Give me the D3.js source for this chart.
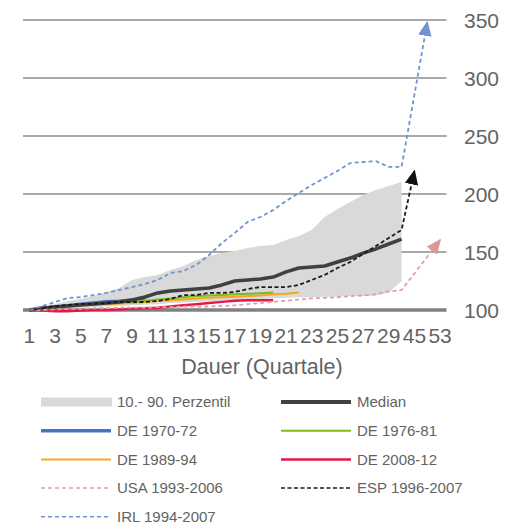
<!DOCTYPE html>
<html>
<head>
<meta charset="utf-8">
<script src="https://cdn.jsdelivr.net/npm/d3@7"></script>
<style>
  html, body { margin: 0; padding: 0; background: #fff; }
  svg { display: block; }
  text { font-family: "Liberation Sans", Arial, sans-serif; }
</style>
</head>
<body>
<svg id="chart" width="517" height="529"></svg>
<script>
// ---- data ----
const categories = ["1","2","3","4","5","6","7","8","9","10","11","12","13","14","15","16","17","18","19","20",
  "21","22","23","24","25","26","27","28","29","30","45","53","53"];
const yTicks = [100, 150, 200, 250, 300, 350];

const p10 = [100,100.5,101,101.5,102,102.5,103,103.5,104,104.5,105,106,106.5,107,107.5,108,108.5,109,109.5,110,
  110.5,111,111,111.5,111.5,112,112,112.5,115,125];
const p90 = [100,102.6,105.2,107.8,109.5,112.1,115.5,119,125.9,128.4,130.2,134.5,137.9,143.1,146.6,149.1,150.9,153.4,155.2,156,
  160.3,163.8,169,180.2,187.1,193.1,199.1,203.4,206.9,210.3];
const median = [100,101.7,102.6,103.4,104.3,105.2,106,106.9,108.6,111.2,114.7,116.4,117.2,118.1,119,121.6,125,125.9,126.7,128.4,
  132.8,136.2,137.1,137.9,141.4,144.8,149.1,152.6,156.9,161.2];
const de7072 = [100,101.5,103,104,105.5,106.5,107.5,108,109,110];
const de7681 = [100,101,102,103,104,105,106,106.5,107,108,109,110,111,112,112.5,113,113.5,114,114.5,115];
const de8994 = [100,101,102,103,104,104.5,105,105.5,106,107,108,108.5,109,110,110.5,111,111.5,112,112.5,113.5,114,115];
const de0812 = [100,99.5,99,99,99.5,100,100,100.5,101,101.5,102,103,104,105,106,107,108,108.5,108.5,108.5];
const usa = [100,100,100.5,101,101,101.5,101.5,102,102,102,102.5,102.5,103,103,103,103.5,104,105,106,107,
  108,109,110,110.5,111,112,112.5,113.5,116,117.2,null,null,160.3];
const esp = [100,101.7,103.4,104.3,105.2,105.2,106,106.9,106.9,106.9,107.8,109.5,112.9,112.9,114.7,114.7,115.5,118.1,119.8,119.8,
  119.8,121.6,125.9,130.2,136.2,141.4,148.3,155.2,162.1,169,219.8];
const irl = [100,103.4,106.9,110.3,111.2,112.9,114.7,117.2,119.8,122.4,125.9,131.9,133.6,138.8,147.4,157.8,166.4,175.9,180.2,186.2,
  194,200.9,207.8,213.8,219.8,226.7,227.6,228.4,223.3,223.3,null,348];

// ---- layout ----
const svg = d3.select("#chart");
const plot = { left: 23, right: 446.5, top: 20, bottom: 310 };

const x = d3.scaleBand().domain(d3.range(categories.length)).range([plot.left, plot.right]).padding(0);
const cx = i => x(i) + x.bandwidth() / 2;
const y = d3.scaleLinear().domain([100, 350]).range([plot.bottom, plot.top]);

// grid lines
svg.append("g").selectAll("line").data(yTicks.filter(t => t !== 100)).join("line")
  .attr("x1", plot.left).attr("x2", plot.right)
  .attr("y1", d => y(d)).attr("y2", d => y(d))
  .attr("stroke", "#8c8c8c").attr("stroke-width", 1.5);

// y axis labels (right)
const yAxis = d3.axisRight(y).tickValues(yTicks).tickSize(0).tickPadding(0);
const gy = svg.append("g").attr("transform", "translate(464,0)").call(yAxis);
gy.select(".domain").remove();
gy.selectAll("text").attr("font-size", 21).attr("fill", "#636363")
  .attr("font-family", "Liberation Sans, Arial, sans-serif").attr("dy", "0.35em");

// percentile area
const bandData = p10.map((v, i) => ({ i, lo: v, hi: p90[i] }));
svg.append("path").datum(bandData)
  .attr("d", d3.area().x(d => cx(d.i)).y0(d => y(d.lo)).y1(d => y(d.hi)))
  .attr("fill", "#d9d9d9");

// markers
const defs = svg.append("defs");
function marker(id, color) {
  defs.append("marker").attr("id", id)
    .attr("viewBox", "0 0 10 10").attr("refX", 9).attr("refY", 5)
    .attr("markerUnits", "userSpaceOnUse").attr("markerWidth", 15).attr("markerHeight", 15)
    .attr("orient", "auto")
    .append("path").attr("d", "M0,0.5 L10,5 L0,9.5 Z").attr("fill", color);
}
marker("arrIRL", "#6f93d3");
marker("arrESP", "#111111");
marker("arrUSA", "#d99a98");

const line = d3.line().x(d => cx(d.i)).y(d => y(d.v));
const toPts = arr => arr.map((v, i) => ({ i, v })).filter(d => d.v !== null && d.v !== undefined);

const series = [
  { name: "DE 2008-12", data: de0812, color: "#e3194b", width: 2.5 },
  { name: "DE 1989-94", data: de8994, color: "#f9a51f", width: 2 },
  { name: "DE 1976-81", data: de7681, color: "#7cbb1f", width: 2 },
  { name: "DE 1970-72", data: de7072, color: "#4472c4", width: 2.5 },
  { name: "Median", data: median, color: "#404040", width: 3.5 },
  { name: "USA 1993-2006", data: usa, color: "#e0a09e", width: 1.8, dash: "4,3", marker: "arrUSA" },
  { name: "ESP 1996-2007", data: esp, color: "#1a1a1a", width: 1.8, dash: "4,2.5", marker: "arrESP" },
  { name: "IRL 1994-2007", data: irl, color: "#6f93d3", width: 1.8, dash: "4,3", marker: "arrIRL" }
];

// baseline at 100
svg.append("line").attr("x1", plot.left).attr("x2", plot.right)
  .attr("y1", y(100)).attr("y2", y(100)).attr("stroke", "#808080").attr("stroke-width", 3.5);

series.forEach(s => {
  const p = svg.append("path").datum(toPts(s.data))
    .attr("d", line).attr("fill", "none")
    .attr("stroke", s.color).attr("stroke-width", s.width)
    .attr("stroke-linejoin", "round");
  if (s.dash) p.attr("stroke-dasharray", s.dash);
  if (s.marker) p.attr("marker-end", `url(#${s.marker})`);
});

// x axis labels
const xAxis = d3.axisBottom(x).tickValues(d3.range(0, categories.length, 2))
  .tickFormat(i => categories[i]).tickSize(0).tickPadding(0);
const gx = svg.append("g").attr("transform", "translate(0,328)").call(xAxis);
gx.select(".domain").remove();
gx.selectAll("text").attr("font-size", 21).attr("fill", "#636363")
  .attr("font-family", "Liberation Sans, Arial, sans-serif").attr("dy", "0.71em");

svg.append("text").attr("x", 262).attr("y", 374).attr("text-anchor", "middle")
  .attr("font-size", 21.5).attr("fill", "#636363").text("Dauer (Quartale)");

// legend
const legendItems = [
  { name: "10.- 90. Perzentil", type: "rect", color: "#d9d9d9" },
  { name: "Median", color: "#404040", width: 4 },
  { name: "DE 1970-72", color: "#4472c4", width: 3.5 },
  { name: "DE 1976-81", color: "#7cbb1f", width: 2 },
  { name: "DE 1989-94", color: "#f9a51f", width: 2 },
  { name: "DE 2008-12", color: "#e3194b", width: 2.5 },
  { name: "USA 1993-2006", color: "#e0a09e", width: 1.5, dash: "4,3" },
  { name: "ESP 1996-2007", color: "#1a1a1a", width: 1.5, dash: "4,2.5" },
  { name: "IRL 1994-2007", color: "#6f93d3", width: 1.5, dash: "4,3" }
];
const lg = svg.append("g");
legendItems.forEach((d, k) => {
  const col = k % 2, row = Math.floor(k / 2);
  const x0 = col === 0 ? 41 : 281;
  const yy = 402 + row * 28.7;
  const g = lg.append("g");
  if (d.type === "rect") {
    g.append("rect").attr("x", x0).attr("y", yy - 4.5).attr("width", 71).attr("height", 9).attr("fill", d.color);
  } else {
    const l = g.append("line").attr("x1", x0).attr("x2", x0 + 70).attr("y1", yy).attr("y2", yy)
      .attr("stroke", d.color).attr("stroke-width", d.width);
    if (d.dash) l.attr("stroke-dasharray", d.dash);
  }
  g.append("text").attr("x", x0 + 76).attr("y", yy).attr("dy", "0.35em")
    .attr("font-size", 15).attr("fill", "#636363").text(d.name);
});
</script>
</body>
</html>
